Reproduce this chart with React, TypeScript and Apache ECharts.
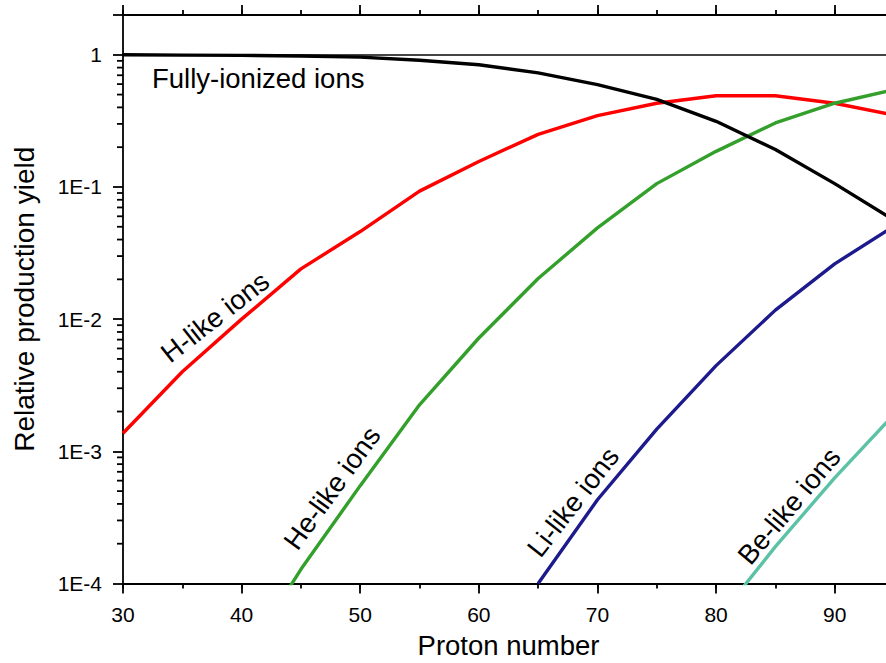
import React, { useEffect, useRef } from "react";
import * as echarts from "echarts";

// ---- data ----
const PROTON = [30, 35, 40, 45, 50, 55, 60, 65, 70, 75, 80, 85, 90, 95];
const FULLY = [1.0, 0.995, 0.99, 0.98, 0.96, 0.91, 0.84, 0.73, 0.595, 0.46, 0.314, 0.192, 0.106, 0.056];
const H_LIKE = [0.00137, 0.004, 0.01, 0.024, 0.046, 0.093, 0.156, 0.25, 0.347, 0.43, 0.49, 0.49, 0.43, 0.35];
const HE_LIKE = [null, null, 2.5e-5, 1.28e-4, 5.5e-4, 2.25e-3, 7.2e-3, 0.0203, 0.049, 0.106, 0.186, 0.305, 0.43, 0.545];
const LI_LIKE = [null, null, null, null, null, null, null, 1.0e-4, 4.3e-4, 1.47e-3, 4.45e-3, 0.0117, 0.0262, 0.0505];
const BE_LIKE = [null, null, null, null, null, null, null, null, null, null, 5.2e-5, 1.9e-4, 6.3e-4, 1.9e-3];

const X_LABELS = [30, 40, 50, 60, 70, 80, 90];
const Y_MINOR = [
  2e-4, 3e-4, 4e-4, 5e-4, 6e-4, 7e-4, 8e-4, 9e-4,
  2e-3, 3e-3, 4e-3, 5e-3, 6e-3, 7e-3, 8e-3, 9e-3,
  2e-2, 3e-2, 4e-2, 5e-2, 6e-2, 7e-2, 8e-2, 9e-2,
  0.2, 0.3, 0.4, 0.5, 0.6, 0.7, 0.8, 0.9,
];
const Y_LABELS: Record<string, string> = {
  "0.0001": "1E-4",
  "0.001": "1E-3",
  "0.01": "1E-2",
  "0.1": "1E-1",
  "1": "1",
};

const FONT = "'Liberation Sans', Arial, Helvetica, sans-serif";

function pairs(vals: (number | null)[]) {
  const out: [number, number][] = [];
  vals.forEach((v, i) => {
    if (v !== null) out.push([PROTON[i], v]);
  });
  return out;
}

export default function App() {
  const ref = useRef<HTMLDivElement>(null);
  useEffect(() => {
    if (!ref.current) return;
    const chart = echarts.init(ref.current, undefined, { renderer: "svg" });
    const tickStyle = { color: "#000", width: 1.8 };
    const axisLine = { show: true, lineStyle: { color: "#000", width: 1.8 } };
    const xBase = { type: "value", min: 30, max: 95, splitLine: { show: false } };
    const lineSeries = (name: string, vals: (number | null)[], color: string, extra: any = {}) => ({
      type: "line",
      name,
      data: pairs(vals),
      showSymbol: false,
      symbol: "none",
      lineStyle: { color, width: 3.4 },
      itemStyle: { color },
      clip: true,
      z: 3,
      ...extra,
    });
    const textStyle = (text: string, align = "center") => ({
      text,
      fill: "#000",
      fontSize: 27.5,
      fontFamily: FONT,
      textAlign: align,
      textVerticalAlign: "middle",
    });
    const option: any = {
      animation: false,
      backgroundColor: "#fff",
      grid: { left: 123, right: -8, top: 15, bottom: 79.5, containLabel: false, outerBoundsMode: "none" },
      xAxis: [
        {
          ...xBase,
          position: "bottom",
          interval: 10,
          axisLine,
          axisTick: { show: true, length: 10, lineStyle: { ...tickStyle } },
          axisLabel: {
            show: true,
            margin: 20,
            color: "#000",
            fontSize: 21,
            fontFamily: FONT,
            formatter: (v: number) => (X_LABELS.indexOf(v) >= 0 ? String(v) : ""),
          },
          name: "Proton number",
          nameLocation: "middle",
          nameGap: 48,
          nameTextStyle: { color: "#000", fontSize: 27.5, fontFamily: FONT },
        },
        {
          ...xBase,
          position: "bottom",
          interval: 5,
          axisLine: { show: false },
          axisTick: { show: true, length: 5, lineStyle: { ...tickStyle } },
          axisLabel: { show: false },
        },
        {
          ...xBase,
          position: "top",
          interval: 10,
          axisLine,
          axisTick: { show: true, length: 10, lineStyle: { ...tickStyle } },
          axisLabel: { show: false },
        },
        {
          ...xBase,
          position: "top",
          interval: 5,
          axisLine: { show: false },
          axisTick: { show: true, length: 5, lineStyle: { ...tickStyle } },
          axisLabel: { show: false },
        },
      ],
      yAxis: [
        {
          type: "log",
          logBase: 10,
          min: 1e-4,
          max: 2,
          interval: 1,
          splitLine: { show: false },
          position: "left",
          axisLine,
          axisTick: { show: true, length: 10, lineStyle: { ...tickStyle } },
          axisLabel: {
            show: true,
            margin: 21,
            color: "#000",
            fontSize: 21,
            fontFamily: FONT,
            formatter: (v: number) => {
              const k = String(Number(Number(v).toPrecision(6)));
              return Y_LABELS[k] ?? "";
            },
          },
          name: "Relative production yield",
          nameLocation: "middle",
          nameGap: 85,
          nameTextStyle: { color: "#000", fontSize: 28, fontFamily: FONT },
        },
      ],
      series: [
        lineSeries("Fully-ionized ions", FULLY, "#000000", {
          z: 4,
          markLine: {
            silent: true,
            symbol: ["none", "none"],
            label: { show: false },
            lineStyle: { color: "#444", width: 1.8, type: "solid" },
            data: [{ yAxis: 1 }],
            z: 2,
          },
        }),
        lineSeries("H-like ions", H_LIKE, "#ff0000"),
        lineSeries("He-like ions", HE_LIKE, "#33a02c"),
        lineSeries("Li-like ions", LI_LIKE, "#1c1a8c"),
        lineSeries("Be-like ions", BE_LIKE, "#5cc2a6"),
        {
          // minor ticks of the logarithmic axis (2..9 in each decade)
          type: "scatter",
          name: "minor ticks",
          data: Y_MINOR.map((v) => [30, v]),
          symbol: "rect",
          symbolSize: [6, 1.8],
          symbolOffset: [-3, 0],
          itemStyle: { color: "#000", opacity: 1 },
          clip: false,
          silent: true,
          z: 6,
        },
      ],
      graphic: [
        { type: "text", x: 152, y: 78, style: textStyle("Fully-ionized ions", "left") },
        { type: "text", x: 215, y: 317, rotation: (38 * Math.PI) / 180, style: textStyle("H-like ions") },
        { type: "text", x: 332, y: 488, rotation: (54 * Math.PI) / 180, style: textStyle("He-like ions") },
        { type: "text", x: 573, y: 502, rotation: (52 * Math.PI) / 180, style: textStyle("Li-like ions") },
        { type: "text", x: 789, y: 506, rotation: (50 * Math.PI) / 180, style: textStyle("Be-like ions") },
      ],
    };
    chart.setOption(option);
    return () => chart.dispose();
  }, []);
  return (
    <div
      ref={ref}
      style={{ position: "fixed", left: 0, top: 0, width: 886, height: 663, background: "#fff" }}
    />
  );
}
